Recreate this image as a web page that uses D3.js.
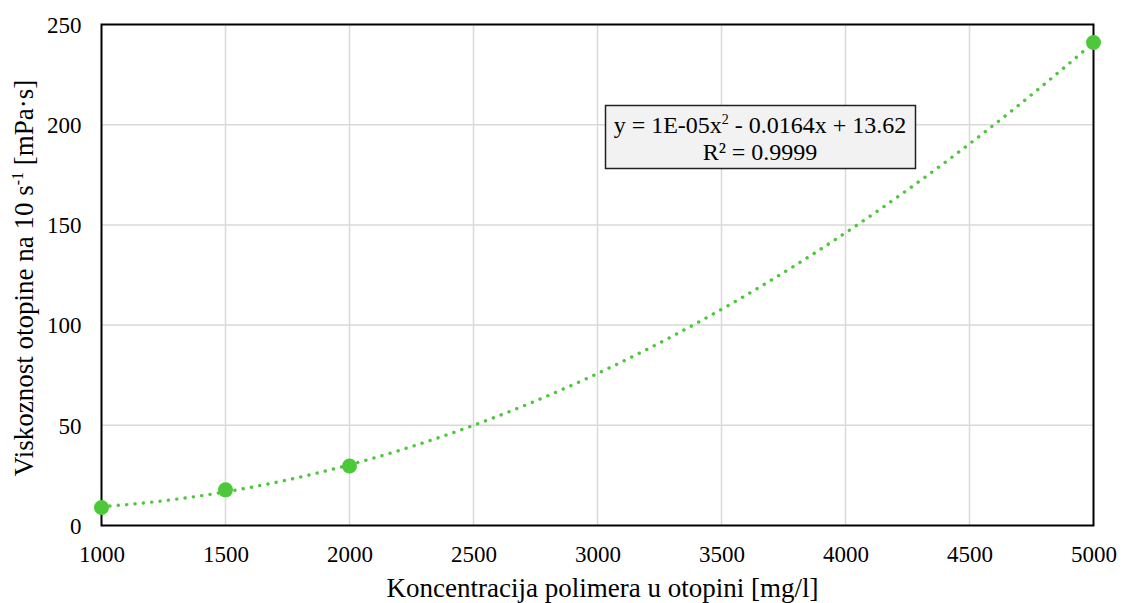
<!DOCTYPE html>
<html><head><meta charset="utf-8">
<script src="https://cdn.jsdelivr.net/npm/d3@7"></script>
<style>body{margin:0;background:#fff}svg{display:block}text{font-family:"Liberation Serif","Times New Roman",serif;fill:#000}</style>
</head><body>
<svg id="c" width="1123" height="603"></svg>
<script>
const concentrations = [1000, 1500, 2000, 5000];
const viscosity = [9.0, 17.8, 29.7, 241];
const xTicks = [1000, 1500, 2000, 2500, 3000, 3500, 4000, 4500, 5000];
const yTicks = [0, 50, 100, 150, 200, 250];
const r2Text = "R² = 0.9999";

const svg = d3.select("#c");
const m = {l:101.5, r:1093.5, t:24.5, b:525.5};
const x = d3.scaleLinear().domain([1000,5000]).range([m.l,m.r]);
const y = d3.scaleLinear().domain([0,250]).range([m.b,m.t]);

// grid
svg.append("g").selectAll("line").data(xTicks.slice(1,-1)).join("line")
  .attr("x1",d=>x(d)).attr("x2",d=>x(d)).attr("y1",m.t).attr("y2",m.b)
  .attr("stroke","#d9d9d9").attr("stroke-width",1.5);
svg.append("g").selectAll("line").data(yTicks.slice(1,-1)).join("line")
  .attr("x1",m.l).attr("x2",m.r).attr("y1",d=>y(d)).attr("y2",d=>y(d))
  .attr("stroke","#d9d9d9").attr("stroke-width",1.5);

// frame
svg.append("rect").attr("x",m.l).attr("y",m.t).attr("width",m.r-m.l).attr("height",m.b-m.t)
  .attr("fill","none").attr("stroke","#000").attr("stroke-width",2);

// axes
const xAxis = svg.append("g").attr("transform",`translate(0,${m.b})`)
  .call(d3.axisBottom(x).tickValues(xTicks).tickSize(0).tickFormat(d3.format("d")));
xAxis.select(".domain").remove();
xAxis.attr("font-family",null).attr("font-size",null);
xAxis.selectAll("text").attr("font-size",23).attr("y",36).attr("dy",0).style("font-family","Liberation Serif");
const yAxis = svg.append("g").attr("transform",`translate(${m.l},0)`)
  .call(d3.axisLeft(y).tickValues(yTicks).tickSize(0).tickPadding(20).tickFormat(d3.format("d")));
yAxis.select(".domain").remove();
yAxis.attr("font-family",null).attr("font-size",null);
yAxis.selectAll("text").attr("font-size",23).attr("dy","0.34em").style("font-family","Liberation Serif");

// quadratic least-squares trendline from data
function quadFit(xs, ys){
  let S=[0,0,0,0,0], T=[0,0,0];
  xs.forEach((xv,i)=>{const yv=ys[i];for(let k=0;k<5;k++)S[k]+=Math.pow(xv,k);for(let k=0;k<3;k++)T[k]+=yv*Math.pow(xv,k);});
  const A=[[S[0],S[1],S[2],T[0]],[S[1],S[2],S[3],T[1]],[S[2],S[3],S[4],T[2]]];
  for(let i=0;i<3;i++){let p=i;for(let j=i+1;j<3;j++)if(Math.abs(A[j][i])>Math.abs(A[p][i]))p=j;[A[i],A[p]]=[A[p],A[i]];
    for(let j=0;j<3;j++){if(j===i)continue;const f=A[j][i]/A[i][i];for(let k=i;k<4;k++)A[j][k]-=f*A[i][k];}}
  return [A[0][3]/A[0][0],A[1][3]/A[1][1],A[2][3]/A[2][2]];
}
const [c0,c1,c2] = quadFit(concentrations, viscosity);
const trend = d3.range(1000,5001,20).map(v=>[v, c0+c1*v+c2*v*v]);
svg.append("path").datum(trend)
  .attr("d",d3.line().x(d=>x(d[0])).y(d=>y(d[1])))
  .attr("fill","none").attr("stroke","#4cc83a").attr("stroke-width",3.4)
  .attr("stroke-linecap","round").attr("stroke-dasharray","0.1 8.3");

// points
svg.append("g").selectAll("circle").data(concentrations).join("circle")
  .attr("cx",d=>x(d)).attr("cy",(d,i)=>y(viscosity[i])).attr("r",7.5).attr("fill","#4cc83a");

// equation box
svg.append("rect").attr("x",605.5).attr("y",105.5).attr("width",310).attr("height",63)
  .attr("fill","#f2f2f2").attr("stroke","#222").attr("stroke-width",1.5);
const eq = svg.append("text").attr("x",760).attr("y",132.5).attr("text-anchor","middle").attr("font-size",24);
eq.append("tspan").text("y = 1E-05x");
eq.append("tspan").text("2").attr("font-size",14).attr("dy",-9);
eq.append("tspan").text(" - 0.0164x + 13.62").attr("dy",9);
svg.append("text").attr("x",760).attr("y",159.5).attr("text-anchor","middle").attr("font-size",24).text(r2Text);

// axis titles
svg.append("text").attr("x",(m.l+m.r)/2+5).attr("y",597).attr("text-anchor","middle").attr("font-size",27)
  .text("Koncentracija polimera u otopini [mg/l]");
const yt = svg.append("text").attr("transform",`translate(33,278) rotate(-90)`).attr("text-anchor","middle").attr("font-size",27);
yt.append("tspan").text("Viskoznost otopine na 10 s");
yt.append("tspan").text("-1").attr("font-size",16).attr("dy",-10);
yt.append("tspan").text(" [mPa·s]").attr("dy",10);
</script>
</body></html>
